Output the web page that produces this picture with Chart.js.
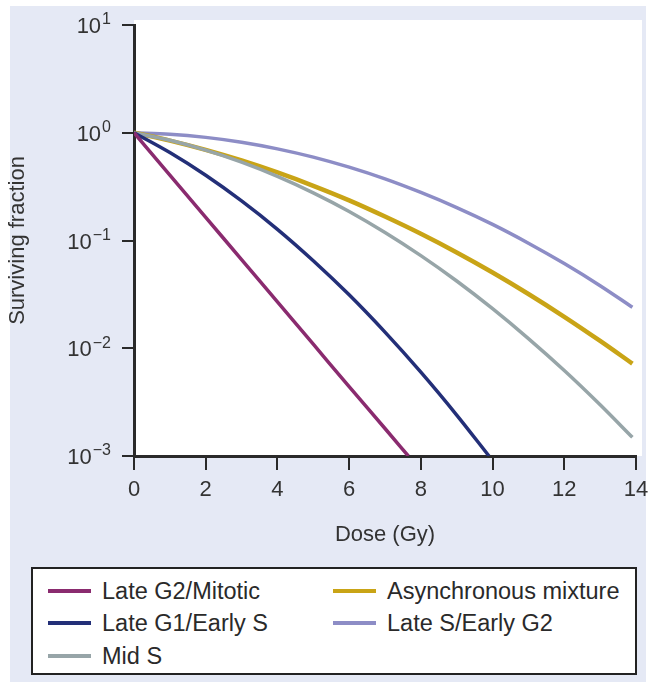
<!DOCTYPE html>
<html>
<head>
<meta charset="utf-8">
<script src="https://cdn.jsdelivr.net/npm/chart.js@4"></script>
<style>
  body { margin: 0; background: #fff; font-family: "Liberation Sans", Arial, sans-serif; }
  #panel { position: absolute; left: 10px; top: 6px; width: 636px; height: 676px; background: #e5e9f5; }
  #chart { position: absolute; left: 0; top: 0; }
  #legend { position: absolute; left: 31px; top: 567px; width: 606px; height: 108px; background: #fff;
            border: 2px solid #222; box-sizing: border-box; }
  .item { position: absolute; font-size: 23.5px; color: #2a2a2a; white-space: nowrap; line-height: 24px; }
  .item .sw { position: absolute; left: 0; top: 10px; width: 43px; height: 4px; }
  .item .tx { position: absolute; left: 54px; top: 0; }
</style>
</head>
<body>
<div id="panel"></div>
<canvas id="chart" width="649" height="560"></canvas>
<div id="legend"></div>
<script>
// survival curves (dose in Gy, surviving fraction)
const doseG2M = [0, 1, 2, 3, 4, 5, 6, 7, 7.65];
const survG2M = [1, 0.405, 0.164, 0.0665, 0.0269, 0.0109, 0.0044, 0.0018, 0.001];

const doseG1S = [0, 1, 2, 3, 4, 5, 6, 7, 8, 9, 9.9];
const survG1S = [1, 0.655, 0.403, 0.233, 0.127, 0.0649, 0.0313, 0.0141, 0.006, 0.0024, 0.001];

const doseLong = [0, 1, 2, 3, 4, 5, 6, 7, 8, 9, 10, 11, 12, 13, 13.9];
const survMidS = [1, 0.851, 0.69, 0.534, 0.394, 0.277, 0.186, 0.1187, 0.0724, 0.0421, 0.0233, 0.0123, 0.00622, 0.00299, 0.00149];
const survAsync = [1, 0.845, 0.693, 0.553, 0.428, 0.322, 0.236, 0.167, 0.1155, 0.0775, 0.0505, 0.0319, 0.0196, 0.0117, 0.0072];
const survLateS = [1, 0.97, 0.906, 0.817, 0.709, 0.594, 0.479, 0.373, 0.279, 0.202, 0.141, 0.0944, 0.0611, 0.0381, 0.024];

const seriesNames = ['Late G2/Mitotic', 'Late G1/Early S', 'Mid S', 'Asynchronous mixture', 'Late S/Early G2'];
const seriesColors = ['#8a2b6f', '#232f78', '#97a5a8', '#c9a416', '#8d8dc6'];
const xTicks = [0, 2, 4, 6, 8, 10, 12, 14];
const yTickExps = [-3, -2, -1, 0, 1];

const toPoints = (xs, ys) => xs.map((x, i) => ({ x: x, y: ys[i] }));
const seriesData = [
    toPoints(doseG2M, survG2M),
    toPoints(doseG1S, survG1S),
    toPoints(doseLong, survMidS),
    toPoints(doseLong, survAsync),
    toPoints(doseLong, survLateS)
];

const axisColor = '#2a2a2a';
const textColor = '#333';
const fontFamily = '"Liberation Sans", Arial, sans-serif';

// white plot panel behind the lines
const plotBg = {
    id: 'plotBg',
    beforeDraw(chart) {
        const a = chart.chartArea, ctx = chart.ctx;
        ctx.save();
        ctx.fillStyle = '#fff';
        ctx.fillRect(a.left, a.top - 5, a.right - a.left + 6, a.bottom - a.top + 5);
        ctx.restore();
    }
};

// y labels as 10 with a raised exponent
const powerLabels = {
    id: 'powerLabels',
    afterDraw(chart) {
        const ctx = chart.ctx, y = chart.scales.y;
        ctx.save();
        ctx.fillStyle = textColor;
        ctx.textBaseline = 'middle';
        yTickExps.forEach(e => {
            const py = y.getPixelForValue(Math.pow(10, e));
            const exp = e < 0 ? '\u2212' + (-e) : String(e);
            ctx.font = '16px ' + fontFamily;
            const ew = ctx.measureText(exp).width;
            const right = 111;
            ctx.textAlign = 'left';
            ctx.fillText(exp, right - ew, py - 5);
            ctx.font = '22px ' + fontFamily;
            ctx.textAlign = 'right';
            ctx.fillText('10', right - ew - 1, py + 2);
        });
        ctx.restore();
    }
};

new Chart(document.getElementById('chart'), {
    type: 'line',
    data: {
        datasets: seriesNames.map((name, i) => ({
            label: name,
            data: seriesData[i],
            borderColor: seriesColors[i],
            borderWidth: i === 3 ? 4.5 : 3.5,
            pointRadius: 0,
            fill: false,
            cubicInterpolationMode: 'monotone'
        }))
    },
    options: {
        responsive: false,
        animation: false,
        layout: { padding: { top: 25, right: 13, left: 0, bottom: 0 } },
        plugins: {
            legend: { display: false },
            tooltip: { enabled: false }
        },
        scales: {
            x: {
                type: 'linear',
                min: 0,
                max: 14,
                afterBuildTicks: s => { s.ticks = xTicks.map(v => ({ value: v })); },
                afterFit: s => { s.height = 104; s.paddingRight = 0; },
                grid: { drawOnChartArea: false, drawTicks: true, tickLength: 14, color: axisColor, lineWidth: 2 },
                border: { color: axisColor, width: 3 },
                ticks: { color: textColor, font: { size: 22, family: fontFamily }, padding: 7, maxRotation: 0 },
                title: { display: true, text: 'Dose (Gy)', color: textColor, font: { size: 22, family: fontFamily }, padding: { top: 0, bottom: 12 } }
            },
            y: {
                type: 'logarithmic',
                min: 0.001,
                max: 10,
                afterBuildTicks: s => { s.ticks = yTickExps.map(e => ({ value: Math.pow(10, e) })); },
                afterFit: s => { s.width = 134; },
                grid: { drawOnChartArea: false, drawTicks: true, tickLength: 12, color: axisColor, lineWidth: 2 },
                border: { color: axisColor, width: 3 },
                ticks: { display: false },
                title: { display: true, text: 'Surviving fraction', color: textColor, font: { size: 22, family: fontFamily }, padding: { top: 5, bottom: 0 } }
            }
        }
    },
    plugins: [plotBg, powerLabels]
});

// legend in two columns, like the figure
const legendPos = [[15, 10], [15, 42], [15, 75], [300, 10], [300, 42]];
const legendEl = document.getElementById('legend');
seriesNames.forEach((name, i) => {
    const it = document.createElement('div');
    it.className = 'item';
    it.style.left = legendPos[i][0] + 'px';
    it.style.top = legendPos[i][1] + 'px';
    it.innerHTML = '<span class="sw" style="background:' + seriesColors[i] + '"></span><span class="tx">' + name + '</span>';
    legendEl.appendChild(it);
});
</script>
</body>
</html>
